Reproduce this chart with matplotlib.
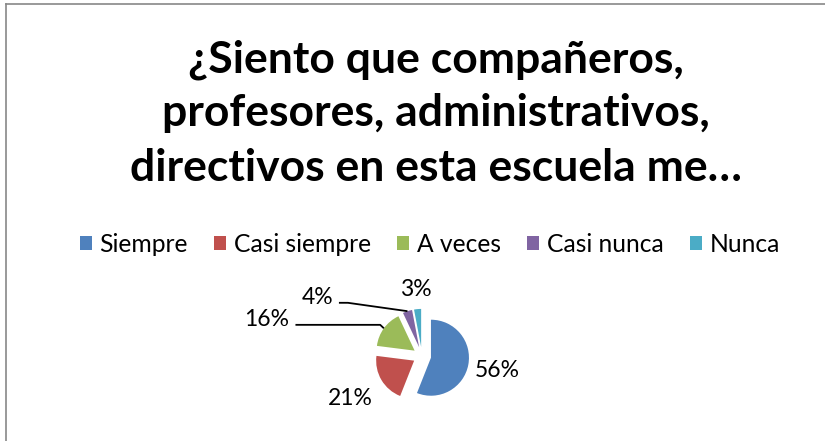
import numpy as np
import matplotlib
matplotlib.use("Agg")
import matplotlib.pyplot as plt
from matplotlib.patches import Patch
from matplotlib.lines import Line2D

# ---------------- data ----------------
title_lines = ["¿Siento que compañeros,",
               "profesores, administrativos,",
               "directivos en esta escuela me…"]
categories = ["Siempre", "Casi siempre", "A veces", "Casi nunca", "Nunca"]
values = [56, 21, 16, 4, 3]
pct_labels = ["56%", "21%", "16%", "4%", "3%"]

# ---------------- style ----------------
colors = ["#4F81BD", "#C0504D", "#9BBB59", "#8064A2", "#4BACC6"]
FONT = "Lato"
W, H, DPI = 825, 441, 100
R_PX = 38.0            # pie radius in pixels
EXPLODE = 0.24

fig = plt.figure(figsize=(W / DPI, H / DPI), dpi=DPI)
fig.patch.set_facecolor("white")
renderer = fig.canvas.get_renderer()


def fit_size(text, target_px, weight="normal", base=20):
    t = fig.text(0, 0, text, fontsize=base, family=FONT, fontweight=weight)
    w = t.get_window_extent(renderer=renderer).width
    t.remove()
    return base * target_px / w


# border (top and left grey lines, running off the right/bottom edges)
fig.add_artist(Line2D([6 / W, 6 / W], [0, 1 - 4 / H], transform=fig.transFigure,
                      color="#878787", lw=1.2))
fig.add_artist(Line2D([6 / W, 1], [1 - 4 / H, 1 - 4 / H], transform=fig.transFigure,
                      color="#878787", lw=1.2))

# title
tsize = fit_size(title_lines[2], 612, weight="bold")
baselines = [72, 126, 181]
for line, yb in zip(title_lines, baselines):
    fig.text(436 / W, 1 - yb / H, line, ha="center", va="baseline",
             fontsize=tsize, fontweight="bold", family=FONT, color="black")

# legend
lsize = fit_size("Casi siempre", 138)
fs_px = lsize * DPI / 72
handles = [Patch(facecolor=c, edgecolor="none") for c in colors]
leg = fig.legend(handles, categories, loc="center", bbox_to_anchor=(430 / W, 1 - 244 / H),
                 ncol=5, frameon=False, prop={"family": FONT, "size": lsize},
                 handlelength=12 / fs_px, handleheight=12 / fs_px,
                 handletextpad=8 / fs_px, columnspacing=26 / fs_px, borderpad=0)

# pie axes: centred at pie centre, 1 data unit = R_PX pixels
cx, cy = 422, 356
aw, ah = 360, 170
ax = fig.add_axes([(cx - aw / 2) / W, (H - cy - ah / 2) / H, aw / W, ah / H])
ax.axis("off")

wedges, _ = ax.pie(values, colors=colors, startangle=90, counterclock=False,
                   explode=[EXPLODE] * len(values), radius=1.0,
                   wedgeprops={"linewidth": 0})
ax.set_xlim(-aw / 2 / R_PX, aw / 2 / R_PX)
ax.set_ylim(-ah / 2 / R_PX, ah / 2 / R_PX)

dsize = fit_size("56%", 45)

# mid angles (math convention, degrees)
frac = np.array(values) / np.sum(values)
ends = 90 - 360 * np.cumsum(frac)
starts = ends + 360 * frac
mids = np.deg2rad((starts + ends) / 2)

# label placement: ("radial", distance) or ("leader", label_xy, knee_xy)
placement = [
    ("radial", 2.02),
    ("radial", 2.2),
    ("leader", (-4.08, 0.97), (-1.1, 0.82)),
    ("leader", (-2.76, 1.55), (-1.95, 1.40)),
    ("radial", 1.76),
]
for i, (lab, pl) in enumerate(zip(pct_labels, placement)):
    m = mids[i]
    d = np.array([np.cos(m), np.sin(m)])
    if pl[0] == "radial":
        pos = d * pl[1]
        ax.text(pos[0], pos[1], lab, ha="center", va="center", fontsize=dsize,
                family=FONT, color="black")
    else:
        lx, ly = pl[1]
        kx, ky = pl[2]
        tip = d * EXPLODE + d * 1.0
        t = ax.text(lx, ly, lab, ha="center", va="center", fontsize=dsize,
                    family=FONT, color="black")
        half_w = t.get_window_extent(renderer=renderer).width / 2 / R_PX
        start_x = lx + half_w + 6 / R_PX
        ax.plot([start_x, kx, tip[0]], [ky, ky, tip[1]], color="black", lw=1.3,
                solid_capstyle="butt")

fig.savefig("out.png", dpi=DPI, facecolor="white")
